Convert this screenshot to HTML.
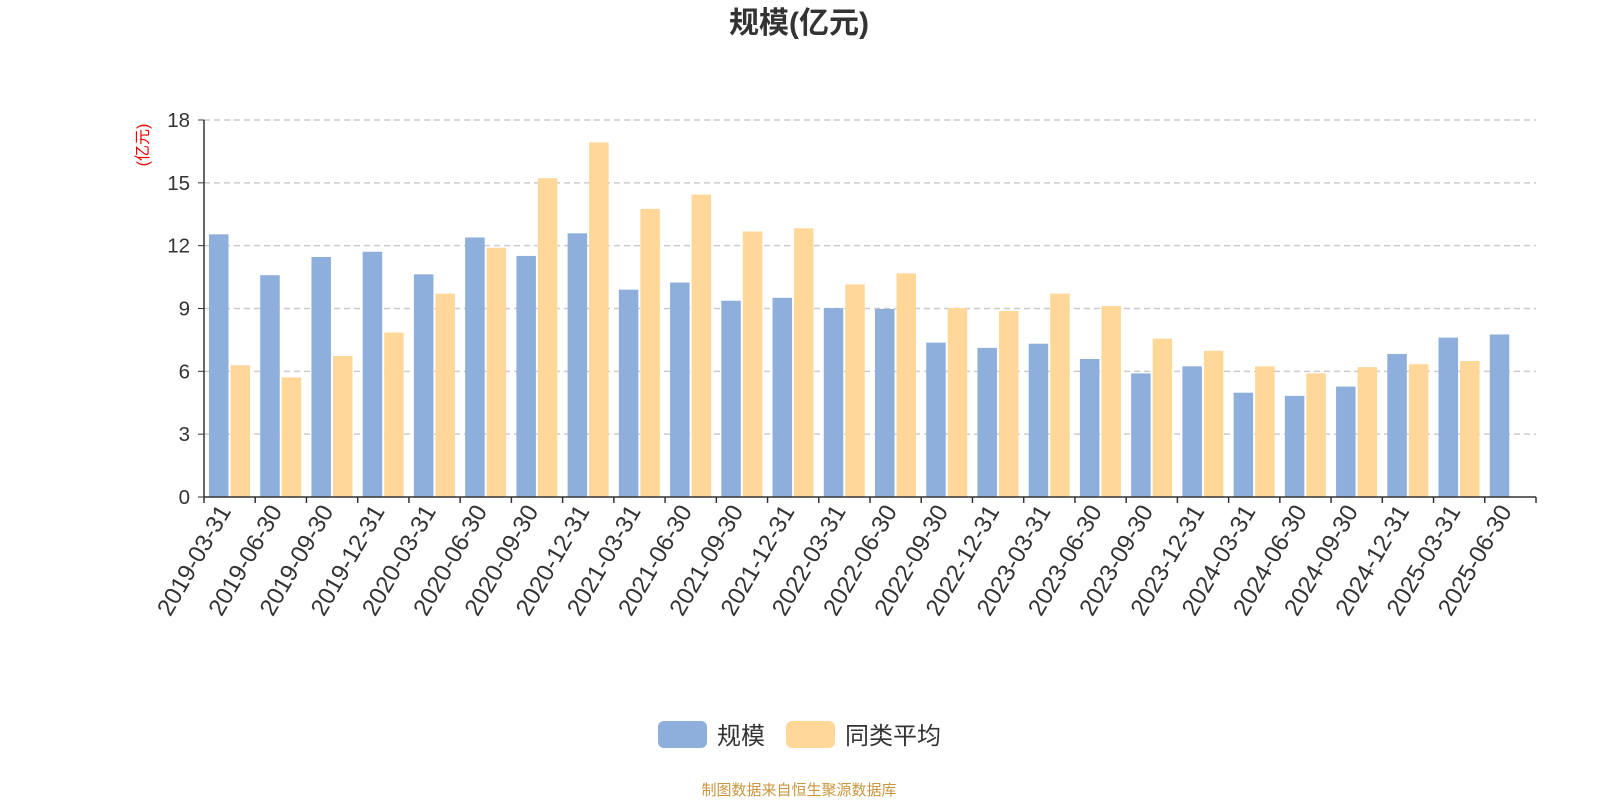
<!DOCTYPE html>
<html><head><meta charset="utf-8"><style>
body{margin:0;background:#fff;width:1600px;height:800px;overflow:hidden;font-family:"Liberation Sans","Noto Sans CJK SC",sans-serif}
</style></head><body>
<svg id="chart" width="1600" height="800" xmlns="http://www.w3.org/2000/svg" font-family="Liberation Sans, Noto Sans CJK SC, sans-serif">
<text x="799" y="33" text-anchor="middle" font-size="30" font-weight="bold" fill="#333">规模(亿元)</text>
<text transform="translate(148,145) rotate(-90)" text-anchor="middle" font-size="16" fill="#e00">(亿元)</text>
<g id="grid"></g><g id="bars"></g><g id="axes"></g>
<g>
<rect x="658" y="721" width="49" height="27" rx="6" fill="#8eaedb"/>
<text x="717" y="744" font-size="24" fill="#333">规模</text>
<rect x="786" y="721" width="49" height="27" rx="6" fill="#ffd899"/>
<text x="845" y="744" font-size="24" fill="#333">同类平均</text>
</g>
<text x="799" y="795" text-anchor="middle" font-size="15" fill="#c8963e">制图数据来自恒生聚源数据库</text>
</svg>
<script>
const categories=["2019-03-31","2019-06-30","2019-09-30","2019-12-31","2020-03-31","2020-06-30","2020-09-30","2020-12-31","2021-03-31","2021-06-30","2021-09-30","2021-12-31","2022-03-31","2022-06-30","2022-09-30","2022-12-31","2023-03-31","2023-06-30","2023-09-30","2023-12-31","2024-03-31","2024-06-30","2024-09-30","2024-12-31","2025-03-31","2025-06-30"];
const scaleValues=[12.54,10.59,11.46,11.71,10.63,12.39,11.51,12.59,9.90,10.24,9.37,9.51,9.02,8.98,7.37,7.12,7.32,6.59,5.90,6.24,4.98,4.83,5.27,6.83,7.61,7.76];
const avgValues=[6.29,5.71,6.73,7.85,9.71,11.9,15.22,16.93,13.76,14.44,12.68,12.83,10.15,10.68,9.02,8.88,9.71,9.12,7.56,6.98,6.24,5.90,6.20,6.34,6.49,null];
const yTicks=[0,3,6,9,12,15,18];
const NS="http://www.w3.org/2000/svg";
const X0=204,X1=1536,Y0=497,Y1=120,YMAX=18;
const bw=(X1-X0)/categories.length;
const y=v=>Y0-(v/YMAX)*(Y0-Y1);
const xb=i=>X0+i*bw;
function mk(tag,attrs,parent){const e=document.createElementNS(NS,tag);for(const k in attrs)e.setAttribute(k,attrs[k]);parent.appendChild(e);return e;}
const grid=document.getElementById('grid'),bars=document.getElementById('bars'),axes=document.getElementById('axes');
yTicks.forEach(t=>{
 if(t>0){const l=mk('line',{x1:X0,x2:X1,y1:y(t),y2:y(t),stroke:'#ccc','stroke-dasharray':'6,4','stroke-width':1.5},grid);
 
 }
 const tk=mk('line',{x1:X0-6,x2:X0,y1:y(t),y2:y(t),stroke:'#333'},axes);
 
 
 const tx=mk('text',{x:X0-14,y:y(t)+7,'text-anchor':'end','font-size':20.5,fill:'#333'},axes);
 tx.textContent=t;
 
 
});
categories.forEach((c,i)=>{
 const bx=xb(i)+5,w=19.5;
 const b1=mk('rect',{x:bx,y:y(scaleValues[i]),width:w,height:Y0-y(scaleValues[i]),fill:'#8eaedb'},bars);
 
 
 if(avgValues[i]!=null){
 const b2=mk('rect',{x:bx+w+2,y:y(avgValues[i]),width:w,height:Y0-y(avgValues[i]),fill:'#ffd899'},bars);
 
 }
 const cx=xb(i)+bw/2;
 const lb=mk('text',{transform:`translate(${cx+2},${Y0+14}) rotate(-60)`,'text-anchor':'end','font-size':24,fill:'#333'},axes);
 lb.textContent=c;
 
 
});
for(let i=0;i<=categories.length;i++){
 const t=mk('line',{x1:xb(i),x2:xb(i),y1:Y0,y2:Y0+6,stroke:'#333','stroke-width':1.5},axes);
 
 
}
const ya=mk('line',{x1:X0,x2:X0,y1:Y1,y2:Y0,stroke:'#333','stroke-width':1.5},axes);


const xa=mk('line',{x1:X0,x2:X1,y1:Y0,y2:Y0,stroke:'#333','stroke-width':1.5},axes);


</script>
</body></html>
